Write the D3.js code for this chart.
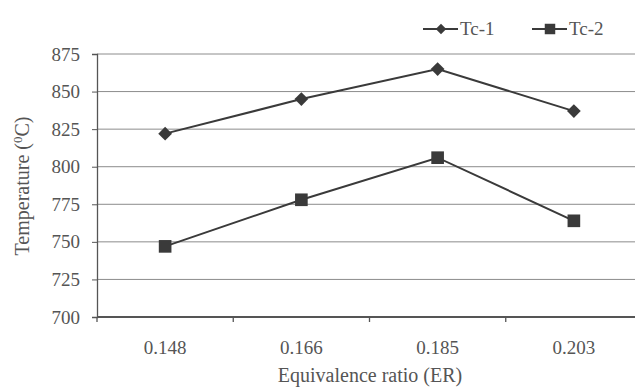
<!DOCTYPE html>
<html>
<head>
<meta charset="utf-8">
<script src="https://cdn.jsdelivr.net/npm/d3@7"></script>
<style>
  body { margin: 0; background: #fff; }
</style>
</head>
<body>
<script>
// data
const categories = ["0.148", "0.166", "0.185", "0.203"];
const tc1 = [822, 845, 865, 837];
const tc2 = [747, 778, 806, 764];
const yTicks = [700, 725, 750, 775, 800, 825, 850, 875];
const seriesNames = ["Tc-1", "Tc-2"];

const W = 635, H = 390;
const plotL = 97, plotR = 642, plotT = 54, plotB = 317;
const ink = "#3a3a3a", grey = "#555";
const serif = "'Liberation Serif', 'Times New Roman', serif";

const svg = d3.select("body").append("svg")
  .attr("width", W).attr("height", H)
  .attr("font-family", serif)
  .style("background", "#fff");

const x = d3.scaleBand().domain(categories).range([plotL, plotR]).padding(0);
const y = d3.scaleLinear().domain([700, 875]).range([plotB, plotT]);
const cx = d => x(d) + x.bandwidth() / 2;

// gridlines
svg.append("g").selectAll("line")
  .data(yTicks.slice(1))
  .join("line")
  .attr("x1", plotL).attr("x2", W)
  .attr("y1", d => y(d)).attr("y2", d => y(d))
  .attr("stroke", "#8c8c8c").attr("stroke-width", 1);

// y axis
const yAxis = svg.append("g")
  .attr("transform", `translate(${plotL},0)`)
  .call(d3.axisLeft(y).tickValues(yTicks).tickSize(5).tickPadding(12).tickFormat(d3.format("d")));
yAxis.attr("font-family", null).attr("font-size", null);
yAxis.select(".domain").attr("stroke", grey).attr("stroke-width", 1.3);
yAxis.selectAll(".tick line").attr("stroke", grey);
yAxis.selectAll("text").attr("fill", grey);

// x axis: ticks at band boundaries
const xg = svg.append("g").attr("transform", `translate(0,${plotB})`);
xg.append("line").attr("x1", plotL).attr("x2", W).attr("y1", 0).attr("y2", 0)
  .attr("stroke", grey).attr("stroke-width", 2);
xg.selectAll("line.tk")
  .data(categories)
  .join("line").attr("class", "tk")
  .attr("x1", d => x(d)).attr("x2", d => x(d))
  .attr("y1", 0).attr("y2", 5)
  .attr("stroke", grey).attr("stroke-width", 1.3);
xg.selectAll("text")
  .data(categories)
  .join("text")
  .attr("x", d => cx(d)).attr("y", 37)
  .attr("text-anchor", "middle")
  .attr("fill", grey)
  .text(d => d);

// all tick/legend text in the serif face
const styleText = sel => sel.style("font-family", serif).style("font-size", "19px");

// legend
const legend = [
  { name: seriesNames[0], x: 423, sym: d3.symbol().type(d3.symbolDiamond2).size(70) },
  { name: seriesNames[1], x: 532, sym: d3.symbol().type(d3.symbolSquare).size(110) }
];
const lg = svg.append("g").selectAll("g")
  .data(legend)
  .join("g")
  .attr("transform", d => `translate(${d.x},29)`);
lg.append("line").attr("x1", 0).attr("x2", 35)
  .attr("stroke", ink).attr("stroke-width", 2);
lg.append("path").attr("transform", "translate(18,0)")
  .attr("d", d => d.sym()).attr("fill", ink);
lg.append("text").attr("x", 37).attr("y", 6)
  .attr("fill", grey)
  .text(d => d.name);

styleText(svg.selectAll("text"));

// axis titles
svg.append("text")
  .attr("x", 370).attr("y", 382)
  .attr("text-anchor", "middle")
  .attr("fill", grey)
  .style("font-family", serif).style("font-size", "20px")
  .text("Equivalence ratio (ER)");

const yt = svg.append("text")
  .attr("transform", "translate(29,186) rotate(-90)")
  .attr("text-anchor", "middle")
  .attr("fill", grey)
  .style("font-family", serif).style("font-size", "20px");
yt.append("tspan").text("Temperature (");
yt.append("tspan").attr("dy", -7).style("font-size", "13px").text("0");
yt.append("tspan").attr("dy", 7).text("C)");

// lines and markers
const line = d3.line().x((d, i) => cx(categories[i])).y(d => y(d));
const diamond = d3.symbol().type(d3.symbolDiamond2).size(120);
const square = d3.symbol().type(d3.symbolSquare).size(160);

[[tc1, diamond], [tc2, square]].forEach(([vals, sym]) => {
  svg.append("path").datum(vals)
    .attr("d", line)
    .attr("fill", "none").attr("stroke", ink).attr("stroke-width", 2);
  svg.append("g").selectAll("path")
    .data(vals)
    .join("path")
    .attr("transform", (d, i) => `translate(${cx(categories[i])},${y(d)})`)
    .attr("d", sym)
    .attr("fill", ink);
});
</script>
</body>
</html>
